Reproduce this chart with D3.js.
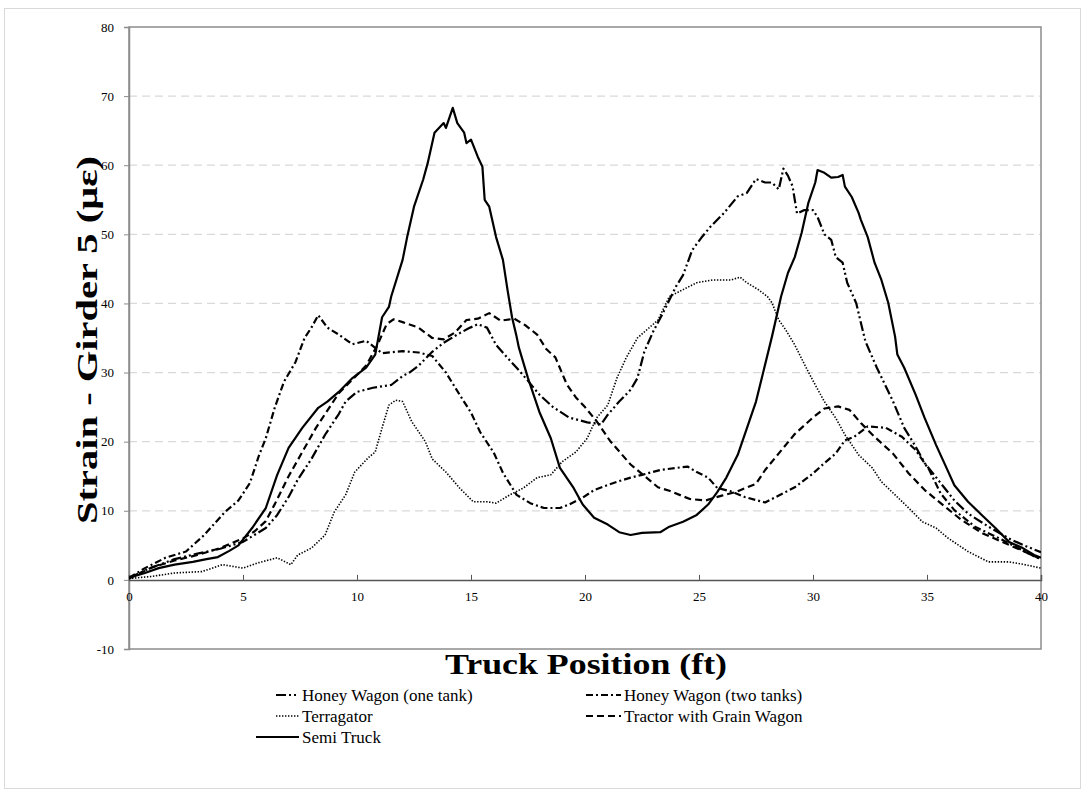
<!DOCTYPE html>
<html>
<head>
<meta charset="utf-8">
<script src="https://cdn.jsdelivr.net/npm/d3@7"></script>
<style>
  html, body { margin: 0; padding: 0; background: #ffffff; }
  svg { display: block; }
  text { font-family: "Liberation Serif", "Times New Roman", serif; fill: #000; }
</style>
</head>
<body>
<svg id="chart" width="1086" height="793"></svg>
<script>
// Measured strain on girder 5 as each vehicle crosses (position in ft, strain in µε)
const honeyWagonOneTank = [
  [0,0.3],[1,1.8],[2,3],[3,3.8],[4,4.5],[5,5.5],[5.5,6.5],[6,7.5],[6.5,9.4],[7,12],[7.4,14.5],
  [8,17.5],[8.6,21],[9.2,24],[9.5,25.8],[10,27.2],[10.7,27.8],[11.5,28.2],[12,29.5],[12.3,30],
  [12.7,31],[13.3,33],[13.8,34.3],[14.4,35.5],[14.9,36.4],[15.3,37],[15.7,36.5],[16.1,34],
  [16.5,32.5],[17,30.7],[17.5,28.8],[18,26.8],[18.6,25],[19.3,23.5],[20.1,22.8],[20.7,22.5],
  [21,23.9],[21.5,25.8],[22,27.5],[22.3,29.2],[22.6,33],[23,36],[23.4,38.5],[24,42.5],[24.3,44.1],
  [24.7,47.7],[25.1,49.5],[25.5,51.1],[26.1,53.1],[26.7,55.5],[27.1,56],[27.5,58],[27.9,57.5],
  [28.2,57.5],[28.5,56.5],[28.7,59.5],[28.9,58.5],[29.1,57],[29.3,53],[29.6,53.5],[30,53.5],
  [30.2,52.5],[30.5,50],[30.8,49.2],[31,46.7],[31.3,45.9],[31.5,43],[31.7,41.5],[31.9,40],
  [32.1,37.2],[32.3,34.5],[32.8,30.7],[33.5,25.9],[34,22],[34.5,19.3],[34.9,16.9],[35.6,14],
  [36.2,11.5],[36.8,9.6],[37.7,7.7],[38.7,5.8],[39.4,4.8],[40,4]
];
const honeyWagonTwoTanks = [
  [0,0.3],[0.7,1.7],[1.6,3.2],[2.5,4.1],[3.3,6.5],[4.2,9.8],[4.8,11.5],[5.3,14],[5.7,18],[6,20.5],
  [6.4,25],[6.8,28.7],[7.3,31.5],[7.7,35],[8,36.5],[8.3,38.3],[8.7,36.5],[9.2,35.5],[9.8,34.1],
  [10.4,34.6],[11.1,32.8],[12,33.1],[12.7,32.9],[13.3,32.4],[13.9,30],[14.5,26.8],[15,24.2],
  [15.4,21.4],[16,18.4],[16.4,15.5],[17,12.3],[17.6,11.1],[18.2,10.4],[18.9,10.4],[19.3,10.9],
  [19.9,11.9],[20.4,13],[20.8,13.5],[21.4,14.2],[22,14.8],[22.5,15.2],[23.3,15.9],[24,16.2],
  [24.5,16.4],[24.9,15.6],[25.4,14.8],[25.8,13.3],[26.4,12.8],[27,12],[27.9,11.2],[28.5,12.2],
  [29.2,13.4],[30,15.4],[30.5,16.9],[31,18.3],[31.4,20.2],[31.8,20.7],[32.4,22.2],[33.2,22],
  [33.9,20.7],[34.5,18.8],[35.1,15.9],[35.6,12.5],[36.2,10.1],[37.1,7.7],[38.3,5.8],[39.7,3.4],[40,3]
];
const terragator = [
  [0,0.2],[1,0.5],[2,1],[3.2,1.2],[4.1,2.2],[5,1.7],[5.7,2.5],[6.5,3.2],[7.1,2.2],[7.4,3.6],
  [8,4.6],[8.6,6.5],[9,9.8],[9.5,12.3],[9.9,15.6],[10.5,17.7],[10.8,18.5],[11.1,22],[11.4,25.3],
  [11.7,26],[12,25.8],[12.4,22.9],[13,20],[13.3,17.5],[13.9,15.6],[14.5,13.3],[15.1,11.3],
  [15.7,11.3],[16.1,11.1],[16.7,12.3],[17.3,13.3],[17.9,14.8],[18.5,15.2],[19,17.1],[19.6,18.5],
  [20.1,20.5],[20.5,23.4],[21,25.3],[21.4,29.2],[21.8,32.1],[22.3,35],[23.2,37.6],[23.7,41],
  [24.3,42],[24.9,43],[25.6,43.4],[26.4,43.4],[26.8,43.8],[27.1,43],[27.6,42],[28,41],[28.2,40.1],
  [28.5,37.6],[28.8,36.2],[29.2,34],[29.7,30.7],[30.1,28.2],[30.5,25.8],[31,23.4],[31.4,21],
  [32,18.1],[32.6,16.2],[33,14.2],[33.6,12.3],[34.2,10.4],[34.8,8.4],[35.4,7.5],[35.9,6.1],
  [36.8,4.1],[37.7,2.6],[38.6,2.6],[39.3,2.2],[40,1.7]
];
const tractorGrainWagon = [
  [0,0.2],[1,1.8],[2,2.8],[3,3.6],[4,4.6],[5,6],[5.5,7],[6,8.5],[6.4,11],[7,15],[7.6,18.5],
  [8.2,22],[8.6,24],[9.2,27],[9.8,29],[10.4,31],[10.9,34],[11.3,37],[11.6,37.7],[12,37.3],
  [12.7,36.5],[13.3,35],[13.8,34.8],[14.3,35.8],[14.8,37.6],[15.3,37.8],[15.8,38.6],[16.3,37.5],
  [16.9,37.8],[17.4,36.8],[17.9,35.5],[18.3,33.4],[18.7,32.2],[19.2,28.3],[19.6,26.4],[20,25],
  [20.5,23],[21.1,20.1],[22,16.7],[23.2,13.4],[23.7,12.9],[24.6,11.7],[25.3,11.5],[26,12.2],
  [26.6,12.7],[27.5,13.9],[27.9,15.9],[28.5,18.3],[29.2,21.1],[30,23.5],[30.5,24.8],[31.1,25.1],
  [31.6,24.6],[32.1,22.7],[32.7,20.7],[33.5,18.3],[34.2,15.4],[34.9,13],[35.6,11.1],[36.5,8.7],
  [37.4,6.8],[38.3,5.5],[39.2,4.2],[40,3]
];
const semiTruck = [
  [0,0.3],[0.7,1],[1.3,1.7],[2,2.2],[2.8,2.6],[3.4,3],[3.9,3.3],[4.4,4.2],[4.8,5],[5.4,7.5],
  [6,10.4],[6.5,15.2],[7,19.1],[7.6,22],[8.3,24.9],[8.7,25.8],[9.2,27.2],[9.8,29.2],[10.4,30.7],
  [10.8,32.6],[11.1,38],[11.4,39.5],[11.5,41],[12,46.3],[12.2,49.6],[12.5,54],[12.9,57.9],
  [13.1,60.3],[13.4,64.7],[13.8,66.1],[13.9,65.4],[14.2,68.3],[14.4,66.1],[14.7,64.7],[14.8,63.2],
  [15,63.7],[15.3,61.2],[15.5,59.8],[15.6,55],[15.8,54],[16.1,49.6],[16.4,46.3],[16.6,42],
  [16.8,38],[17,35.2],[17.1,33.6],[17.5,29.2],[18,24.3],[18.5,20.5],[18.9,16.2],[19.5,13.3],
  [19.9,10.9],[20.4,9],[21,8],[21.5,6.9],[22,6.5],[22.5,6.8],[23.3,6.9],[23.7,7.7],[24.3,8.4],
  [24.9,9.4],[25.4,10.9],[25.8,12.7],[26.2,14.8],[26.7,18.1],[27.5,25.8],[28.2,35.2],[28.6,41],
  [28.9,44.4],[29.2,46.7],[29.5,50.2],[29.8,54.6],[30.1,57.5],[30.2,59.3],[30.5,58.9],[30.8,58.2],
  [31.1,58.3],[31.3,58.6],[31.4,56.9],[31.7,55.4],[32,53.1],[32.1,52.1],[32.4,49.6],[32.7,45.9],
  [33,43.4],[33.3,40.1],[33.6,35.2],[33.7,32.6],[34,30.7],[34.5,26.8],[34.9,23.4],[35.4,19.5],
  [35.8,16.6],[36.2,13.7],[36.8,11.3],[37.4,9.4],[38,7.5],[38.6,5.5],[39.2,4.6],[39.7,3.6],[40,3.2]
];

const xTicks = [0, 5, 10, 15, 20, 25, 30, 35, 40];
const yTicks = [-10, 0, 10, 20, 30, 40, 50, 60, 70, 80];
const seriesNames = [
  "Honey Wagon (one tank)", "Honey Wagon (two tanks)", "Terragator",
  "Tractor with Grain Wagon", "Semi Truck"
];
const seriesData = [honeyWagonOneTank, honeyWagonTwoTanks, terragator, tractorGrainWagon, semiTruck];
const seriesDash = ["10,3,2,3,2,3", "7,3,2,3", "1.4,1.6", "7,4", null];
const seriesWidth = [2.2, 2.2, 1.6, 2.2, 2.2];

const svg = d3.select("#chart");

// outer frame
svg.append("rect")
  .attr("x", 4.5).attr("y", 8.5).attr("width", 1076).attr("height", 780)
  .attr("fill", "none").attr("stroke", "#d9d9d9").attr("stroke-width", 1);

const plot = { left: 129, right: 1041, top: 27, bottom: 649 };
const x = d3.scaleLinear().domain([0, 40]).range([plot.left, plot.right]);
const y = d3.scaleLinear().domain([-10, 80]).range([plot.bottom, plot.top]);

// plain hyphen for negative tick labels
const tickFmt = d => String(d);

// horizontal dashed gridlines
svg.append("g")
  .selectAll("line")
  .data(yTicks.filter(v => v > 0 && v < 80))
  .join("line")
  .attr("x1", plot.left).attr("x2", plot.right)
  .attr("y1", d => y(d)).attr("y2", d => y(d))
  .attr("stroke", "#d9d9d9").attr("stroke-width", 1.2)
  .attr("stroke-dasharray", "8,5");

// plot border
svg.append("rect")
  .attr("x", plot.left).attr("y", plot.top)
  .attr("width", plot.right - plot.left).attr("height", plot.bottom - plot.top)
  .attr("fill", "none").attr("stroke", "#8c8c8c").attr("stroke-width", 1.5);

// y axis
const yAxis = svg.append("g")
  .attr("transform", `translate(${plot.left},0)`)
  .call(d3.axisLeft(y).tickValues(yTicks).tickSize(5).tickPadding(10).tickFormat(tickFmt));
yAxis.select(".domain").attr("stroke", "#8c8c8c").attr("stroke-width", 1.5);
yAxis.selectAll(".tick line").attr("stroke", "#8c8c8c");
yAxis.selectAll(".tick text")
  .attr("font-family", "'Liberation Serif', serif").attr("font-size", 13).attr("fill", "#333");

// x axis along zero strain, ticks pointing up
const xAxis = svg.append("g")
  .attr("transform", `translate(0,${y(0)})`)
  .call(d3.axisBottom(x).tickValues(xTicks).tickSize(-5).tickPadding(9).tickFormat(tickFmt));
xAxis.select(".domain").attr("stroke", "#555").attr("stroke-width", 1.5);
xAxis.selectAll(".tick line").attr("stroke", "#555");
xAxis.selectAll(".tick text")
  .attr("font-family", "'Liberation Serif', serif").attr("font-size", 13).attr("fill", "#333")
  .attr("dy", "0.9em");

// series lines
const line = d3.line().x(d => x(d[0])).y(d => y(d[1]));
svg.append("clipPath").attr("id", "plotClip")
  .append("rect").attr("x", plot.left).attr("y", plot.top)
  .attr("width", plot.right - plot.left).attr("height", plot.bottom - plot.top);

svg.append("g").attr("clip-path", "url(#plotClip)")
  .selectAll("path")
  .data(seriesData)
  .join("path")
  .attr("d", line)
  .attr("fill", "none")
  .attr("stroke", "#000")
  .attr("stroke-width", (d, i) => seriesWidth[i])
  .attr("stroke-linejoin", "round")
  .attr("stroke-dasharray", (d, i) => seriesDash[i]);

// axis titles
svg.append("text")
  .attr("x", 586).attr("y", 674)
  .attr("text-anchor", "middle")
  .attr("font-size", 30).attr("font-weight", "bold")
  .attr("textLength", 282).attr("lengthAdjust", "spacingAndGlyphs")
  .text("Truck Position (ft)");

svg.append("text")
  .attr("transform", `translate(97,340) rotate(-90)`)
  .attr("text-anchor", "middle")
  .attr("font-size", 30).attr("font-weight", "bold")
  .attr("textLength", 368).attr("lengthAdjust", "spacingAndGlyphs")
  .text("Strain - Girder 5 (με)");

// legend: two columns, three rows
const legendPos = [
  { sx: 276, tx: 302, y: 695 },
  { sx: 586, tx: 624, y: 695 },
  { sx: 276, tx: 302, y: 716 },
  { sx: 586, tx: 624, y: 716 },
  { sx: 256, tx: 302, y: 737 }
];
const legend = svg.append("g").selectAll("g")
  .data(seriesNames)
  .join("g");
legend.append("line")
  .attr("x1", (d, i) => legendPos[i].sx)
  .attr("x2", (d, i) => legendPos[i].tx - 3)
  .attr("y1", (d, i) => legendPos[i].y)
  .attr("y2", (d, i) => legendPos[i].y)
  .attr("stroke", "#000")
  .attr("stroke-width", (d, i) => seriesWidth[i])
  .attr("stroke-dasharray", (d, i) => seriesDash[i]);
legend.append("text")
  .attr("x", (d, i) => legendPos[i].tx)
  .attr("y", (d, i) => legendPos[i].y)
  .attr("dy", "0.35em")
  .attr("font-size", 17)
  .text(d => d);
</script>
</body>
</html>
